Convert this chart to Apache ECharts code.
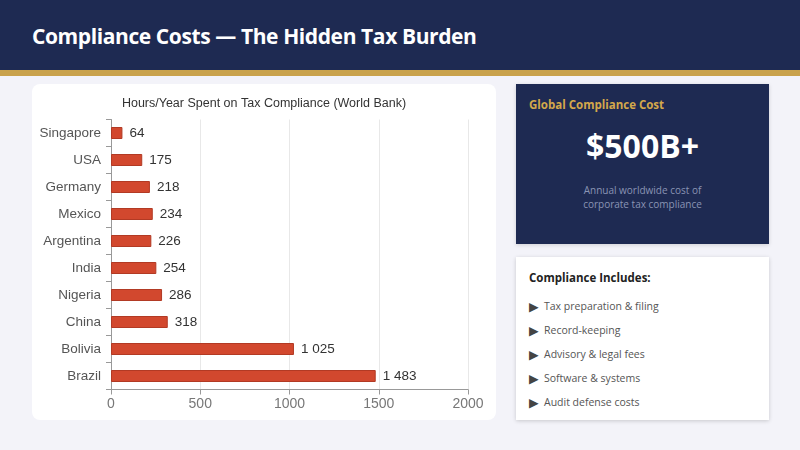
<!DOCTYPE html>
<html>
<head>
<meta charset="UTF-8">
<title>Compliance Costs</title>
<script type="text/javascript" src="https://cdn.jsdelivr.net/npm/echarts@6/dist/echarts.min.js"></script>
<style>
	body { margin: 0; width: 800px; height: 450px; background: #f3f3f9; font-family: "Open Sans", "Noto Sans", sans-serif; position: relative; overflow: hidden; }
	.header { position: absolute; left: 0; top: 0; width: 800px; height: 70px; background: #1e2a52; }
	.header h1 { margin: 0; position: absolute; left: 32px; top: 22px; color: #fff; font-size: 21px; font-weight: 700; letter-spacing: -0.4px; }
	.gold { position: absolute; left: 0; top: 70px; width: 800px; height: 6px; background: #c9a24c; }
	#main { position: absolute; left: 32px; top: 84px; width: 464px; height: 336px; background: #fff; border-radius: 8px; }
	.stat { position: absolute; left: 516px; top: 84px; width: 253px; height: 160px; background: #1e2a52; box-shadow: 0 1px 4px rgba(0,0,0,0.15); }
	.stat .lbl { position: absolute; left: 13px; top: 13px; color: #d4a84b; font-size: 11.5px; font-weight: 700; }
	.stat .big { position: absolute; left: 0; width: 253px; top: 40px; text-align: center; color: #fff; font-size: 32px; font-weight: 700; }
	.stat .sub { position: absolute; left: 0; width: 253px; top: 99px; text-align: center; color: #8a94b4; font-size: 10px; line-height: 14px; }
	.list { position: absolute; left: 516px; top: 257px; width: 253px; height: 163px; background: #fff; box-shadow: 0 1px 4px rgba(0,0,0,0.18); }
	.list .hd { position: absolute; left: 13px; top: 13px; color: #222; font-size: 11.5px; font-weight: 700; }
	.list ul { list-style: none; margin: 0; padding: 0; position: absolute; left: 13px; top: 42px; }
	.list li { height: 24px; font-size: 10.5px; color: #555; }
	.list li span { display: inline-block; width: 15px; font-size: 12.5px; color: #444; font-family: "DejaVu Sans", sans-serif; vertical-align: -1px; }
</style>
</head>
<body>
<div class="header"><h1>Compliance Costs — The Hidden Tax Burden</h1></div>
<div class="gold"></div>
<div id="main"></div>
<div class="stat">
	<div class="lbl">Global Compliance Cost</div>
	<div class="big">$500B+</div>
	<div class="sub">Annual worldwide cost of<br>corporate tax compliance</div>
</div>
<div class="list">
	<div class="hd">Compliance Includes:</div>
	<ul id="items"></ul>
</div>

<script type="text/javascript">
	// 数据
	var countries = ['Singapore', 'USA', 'Germany', 'Mexico', 'Argentina', 'India', 'Nigeria', 'China', 'Bolivia', 'Brazil'];
	var hours = [64, 175, 218, 234, 226, 254, 286, 318, 1025, 1483];
	var xTicks = [0, 500, 1000, 1500, 2000];
	var items = ['Tax preparation & filing', 'Record-keeping', 'Advisory & legal fees', 'Software & systems', 'Audit defense costs'];

	var ul = document.getElementById('items');
	items.forEach(function (t) {
		var li = document.createElement('li');
		li.innerHTML = '<span>&#9654;</span>' + t.replace(/&/g, '&amp;');
		ul.appendChild(li);
	});

	function fmt(v) {
		return String(v).replace(/\B(?=(\d{3})+(?!\d))/g, ' ');
	}

	var mychart = echarts.init(document.getElementById('main'));
	var option = {
		animation: false,
		title: {
			text: 'Hours/Year Spent on Tax Compliance (World Bank)',
			left: 'center',
			top: 8,
			textStyle: { fontFamily: 'Liberation Sans, Arial', fontSize: 12.5, fontWeight: 'normal', color: '#333' }
		},
		grid: { left: 79, right: 28, top: 35.5, bottom: 30.5 },
		xAxis: {
			type: 'value',
			min: xTicks[0],
			max: xTicks[xTicks.length - 1],
			interval: 500,
			axisLine: { show: true, lineStyle: { color: '#999' } },
			axisTick: { show: true, lineStyle: { color: '#999' } },
			axisLabel: { color: '#777', fontSize: 14, fontFamily: 'Liberation Sans, Arial', margin: 8, formatter: function (v) { return String(v); } },
			splitLine: { lineStyle: { color: '#e8e8e8' } }
		},
		yAxis: {
			type: 'category',
			inverse: true,
			data: countries,
			axisLine: { lineStyle: { color: '#999' } },
			axisTick: { show: true, lineStyle: { color: '#999' } },
			axisLabel: { color: '#555', fontSize: 13.5, fontFamily: 'Liberation Sans, Arial', margin: 10 }
		},
		series: [{
			type: 'bar',
			data: hours,
			barWidth: 12,
			itemStyle: { color: '#d2482e', borderColor: '#b23a24', borderWidth: 1 },
			label: {
				show: true,
				position: 'right',
				distance: 7,
				color: '#333',
				fontSize: 13.5,
				fontFamily: 'Liberation Sans, Arial',
				formatter: function (p) { return fmt(p.value); }
			}
		}]
	};
	mychart.setOption(option);
</script>
</body>
</html>
